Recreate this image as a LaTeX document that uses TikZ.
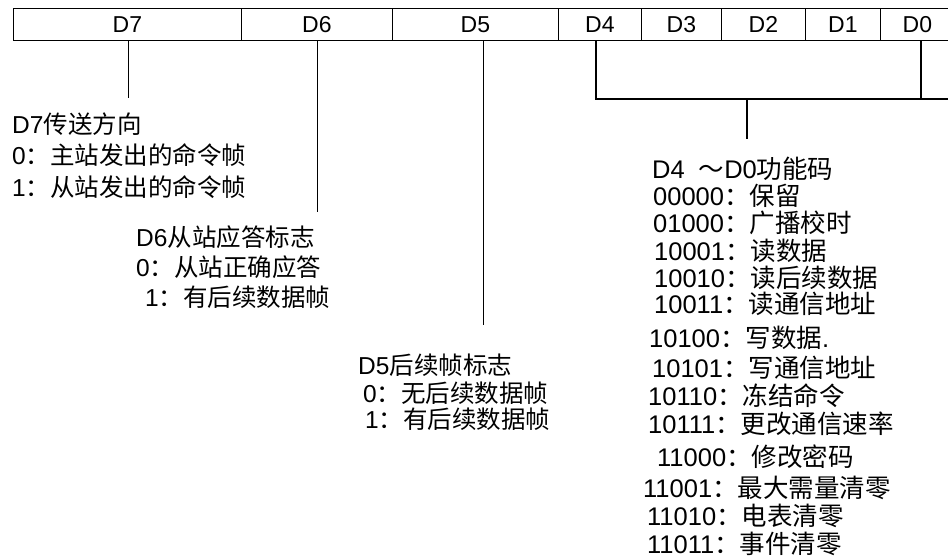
\documentclass[tikz,border=0pt]{standalone}
\usepackage{fontspec}
\setmainfont{Liberation Sans}
\newfontfamily\cjk{Noto Sans CJK SC}
\newcommand\zh[1]{{\cjk #1}}
\begin{document}
\begin{tikzpicture}[x=1pt,y=-1pt,
  cell/.style={draw, line width=0.8pt, minimum height=32pt, inner sep=0pt,
    anchor=north west, font=\fontsize{23}{23}\selectfont},
  txt/.style={anchor=base west, inner sep=0pt, font=\fontsize{24.5}{24.5}\selectfont},
  ftxt/.style={anchor=base west, inner sep=0pt, font=\fontsize{25.5}{25.5}\selectfont},
  conn/.style={line width=1pt},
  brk/.style={line width=1.8pt}]
\useasboundingbox (0,0) rectangle (948,557);
\clip (0,0) rectangle (948,557);
\fill[white] (0,0) rectangle (948,557);
% register cells
\node[cell, minimum width=228pt] (c7) at (13,8) {D7};
\node[cell, minimum width=151pt] (c6) at (241,8) {D6};
\node[cell, minimum width=166pt] (c5) at (392,8) {D5};
\node[cell, minimum width=83pt]  (c4) at (558,8) {D4};
\node[cell, minimum width=80pt]  (c3) at (641,8) {D3};
\node[cell, minimum width=84pt]  (c2) at (721,8) {D2};
\node[cell, minimum width=75pt]  (c1) at (805,8) {D1};
\node[cell, minimum width=74pt]  (c0) at (880,8) {D0};
% connector ends
\coordinate (e7) at (128,98);
\coordinate (e6) at (317,212);
\coordinate (e5) at (483,325);
\coordinate (b4) at (596,99);
\coordinate (b0) at (921,99);
\coordinate (bend) at (960,99);
\coordinate (stem) at (747,139);
\draw[conn] (c7.south -| e7) -- (e7);
\draw[conn] (c6.south -| e6) -- (e6);
\draw[conn] (c5.south -| e5) -- (e5);
\draw[brk] (c4.south -| b4) -- (b4) -- (bend);
\draw[brk] (c0.south -| b0) -- (b0);
\draw[brk] (b4 -| stem) -- (stem);
% D7 block
\node[txt] (t70) at (12,133) {D7\zh{传送方向}};
\node[txt] (t71) at (12,164) {0\zh{：主站发出的命令帧}};
\node[txt] (t72) at (12,196) {1\zh{：从站发出的命令帧}};
% D6 block
\node[txt] (t60) at (136,246) {D6\zh{从站应答标志}};
\node[txt] (t61) at (136,276) {0\zh{：从站正确应答}};
\node[txt] (t62) at (145,306) {1\zh{：有后续数据帧}};
% D5 block
\node[txt] (t50) at (358,374) {D5\zh{后续帧标志}};
\node[txt] (t51) at (363,402) {0\zh{：无后续数据帧}};
\node[txt] (t52) at (365,428) {1\zh{：有后续数据帧}};
% D4-D0 block
\node[ftxt] (f0)  at (652,178) {D4\hspace{14pt}\zh{～}D0\zh{功能码}};
\node[ftxt] (f1)  at (653,205) {00000\zh{：保留}};
\node[ftxt] (f2)  at (653,232) {01000\zh{：广播校时}};
\node[ftxt] (f3)  at (654,260) {10001\zh{：读数据}};
\node[ftxt] (f4)  at (654,287) {10010\zh{：读后续数据}};
\node[ftxt] (f5)  at (654,313) {10011\zh{：读通信地址}};
\node[ftxt] (f6)  at (649,347) {10100\zh{：写数据}.};
\node[ftxt] (f7)  at (652,377) {10101\zh{：写通信地址}};
\node[ftxt] (f8)  at (648,405) {10110\zh{：冻结命令}};
\node[ftxt] (f9)  at (648,433) {10111\zh{：更改通信速率}};
\node[ftxt] (f10) at (657,466) {11000\zh{：修改密码}};
\node[ftxt] (f11) at (643,497) {11001\zh{：最大需量清零}};
\node[ftxt] (f12) at (647,525) {11010\zh{：电表清零}};
\node[ftxt] (f13) at (647,553) {11011\zh{：事件清零}};
\end{tikzpicture}
\end{document}
